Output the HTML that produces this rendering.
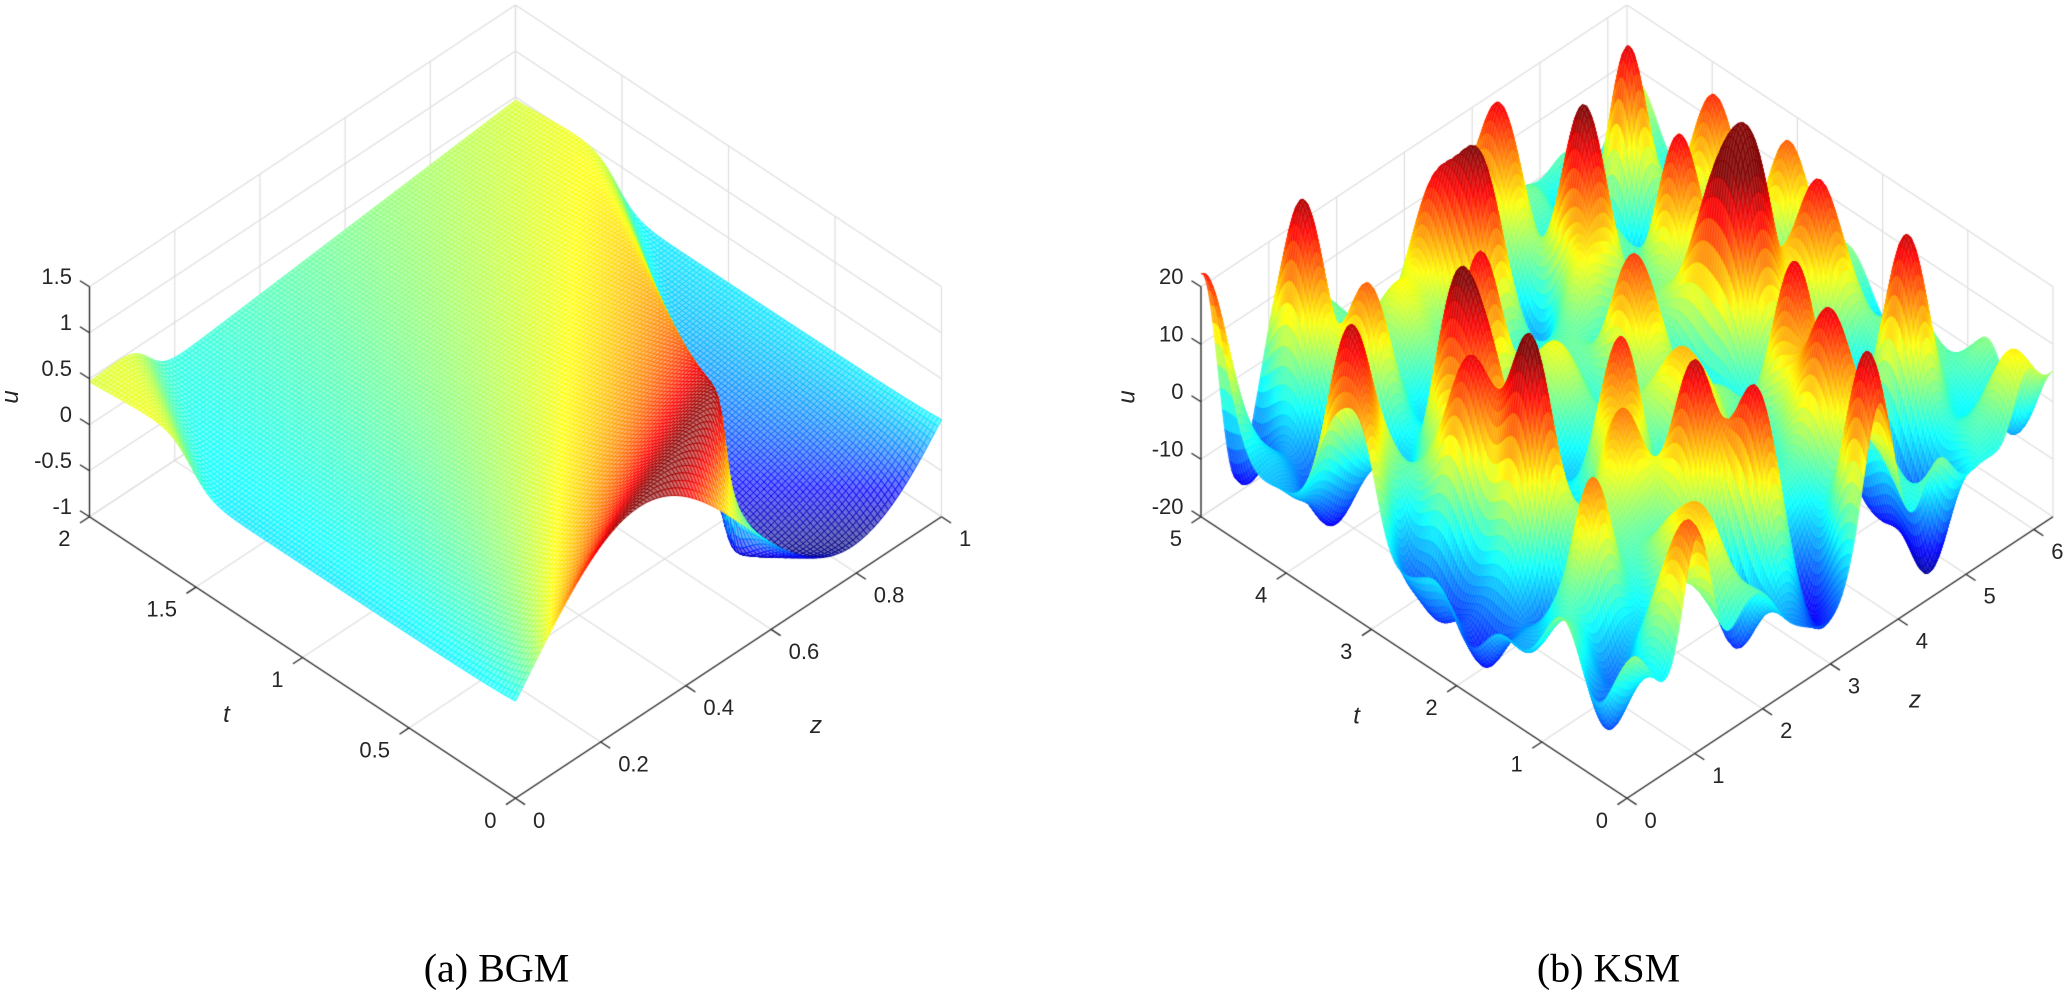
<!DOCTYPE html>
<html><head><meta charset="utf-8">
<style>
html,body{margin:0;padding:0;background:#fff;}
#wrap{position:relative;width:2067px;height:993px;overflow:hidden;background:#fff;}
#cv,#fg{position:absolute;left:0;top:0;}
</style></head>
<body>
<div id="wrap">
<canvas id="cv" width="2067" height="993"></canvas>
<svg id="fg" width="2067" height="993" xmlns="http://www.w3.org/2000/svg">
<g font-family="'Liberation Sans', Arial, Helvetica, sans-serif" font-size="22" fill="#262626">
  <g text-anchor="end">
    <text x="72" y="284.2">1.5</text>
    <text x="72" y="330.2">1</text>
    <text x="72" y="376.2">0.5</text>
    <text x="72" y="422.2">0</text>
    <text x="72" y="468.2">-0.5</text>
    <text x="72" y="514.2">-1</text>
    <text x="1183.5" y="284.2">20</text>
    <text x="1183.5" y="341.7">10</text>
    <text x="1183.5" y="399.2">0</text>
    <text x="1183.5" y="456.7">-10</text>
    <text x="1183.5" y="514.2">-20</text>
    <text x="496.5" y="827.8">0</text>
    <text x="390" y="757.4">0.5</text>
    <text x="283.5" y="687">1</text>
    <text x="177" y="616.6">1.5</text>
    <text x="70.5" y="546.2">2</text>
    <text x="1608" y="827.8">0</text>
    <text x="1522.8" y="771.5">1</text>
    <text x="1437.6" y="715.2">2</text>
    <text x="1352.4" y="658.8">3</text>
    <text x="1267.2" y="602.5">4</text>
    <text x="1182" y="546.2">5</text>
  </g>
  <g text-anchor="start">
    <text x="533" y="827.8">0</text>
    <text x="618.2" y="771.5">0.2</text>
    <text x="703.4" y="715.2">0.4</text>
    <text x="788.6" y="658.8">0.6</text>
    <text x="873.8" y="602.5">0.8</text>
    <text x="959" y="546.2">1</text>
    <text x="1644.5" y="827.8">0</text>
    <text x="1712.3" y="783">1</text>
    <text x="1780.1" y="738.2">2</text>
    <text x="1847.9" y="693.3">3</text>
    <text x="1915.7" y="648.5">4</text>
    <text x="1983.5" y="603.7">5</text>
    <text x="2051.3" y="558.9">6</text>
  </g>
  <g font-style="italic" font-size="24" text-anchor="middle">
    <text transform="translate(18,397) rotate(-90)">u</text>
    <text transform="translate(1134.5,397) rotate(-90)">u</text>
    <text x="226.5" y="722">t</text>
    <text x="1356.6" y="723.7">t</text>
    <text x="816" y="733">z</text>
    <text x="1915" y="707.4">z</text>
  </g>
</g>
<g font-family="'Liberation Serif', 'Times New Roman', Times, serif" font-size="40" fill="#000" text-anchor="middle">
  <text x="496.5" y="981.5">(a) BGM</text>
  <text x="1608.5" y="981.5">(b) KSM</text>
</g>
</svg>
</div>
<script>
(function(){
var cv=document.getElementById('cv');
var ctx=cv.getContext('2d');
function P(X0,zn,tn,un){return [X0+426*(zn-tn),798.3-281.6*(zn+tn)-230*un];}
function L(a,b){ctx.beginPath();ctx.moveTo(a[0],a[1]);ctx.lineTo(b[0],b[1]);ctx.stroke();}
function cl(x){return x<0?0:(x>1?1:x);}
function jet(v){v=cl(v);return [cl(1.5-Math.abs(4*v-3)),cl(1.5-Math.abs(4*v-2)),cl(1.5-Math.abs(4*v-1))];}

function grid(X0,zt,tt,ut){
  ctx.strokeStyle='#dedede';ctx.lineWidth=1.2;
  zt.forEach(function(z){L(P(X0,z,0,0),P(X0,z,1,0));L(P(X0,z,1,0),P(X0,z,1,1));});
  tt.forEach(function(t){L(P(X0,0,t,0),P(X0,1,t,0));L(P(X0,1,t,0),P(X0,1,t,1));});
  ut.forEach(function(u){L(P(X0,0,1,u),P(X0,1,1,u));L(P(X0,1,0,u),P(X0,1,1,u));});
}
function axes(X0,zt,tt,ut){
  ctx.strokeStyle='#262626';ctx.lineWidth=1.3;
  L(P(X0,0,1,0),P(X0,0,1,1));
  L(P(X0,0,0,0),P(X0,0,1,0));
  L(P(X0,0,0,0),P(X0,1,0,0));
  ut.forEach(function(u){var p=P(X0,0,1,u);L(p,[p[0]-9.5,p[1]-6]);});
  tt.forEach(function(t){var p=P(X0,0,t,0);L(p,[p[0]-9.5,p[1]+6.3]);});
  zt.forEach(function(z){var p=P(X0,z,0,0);L(p,[p[0]+9.5,p[1]+6.3]);});
}
function surf(X0,V,N,umin,ur,lw,mix,cmin,cmax){
  var k;
  if(cmin===undefined){cmin=1e9;cmax=-1e9;
    for(k=0;k<V.length;k++){if(V[k]<cmin)cmin=V[k];if(V[k]>cmax)cmax=V[k];}}
  var px=new Float64Array(N*N),py=new Float64Array(N*N);
  for(var j=0;j<N;j++)for(var i=0;i<N;i++){k=j*N+i;var p=P(X0,i/(N-1),j/(N-1),(V[k]-umin)/ur);px[k]=p[0];py[k]=p[1];}
  ctx.lineWidth=lw;ctx.lineJoin='round';
  var M=N-1;
  for(k=2*M-2;k>=0;k--){
    var i0=Math.max(0,k-(M-1)),i1=Math.min(M-1,k);
    for(var ii=i0;ii<=i1;ii++){
      var jj=k-ii;
      var a=jj*N+ii,b=a+1,c=a+N+1,d=a+N;
      var v=(V[a]+V[b]+V[c]+V[d])*0.25;
      var col=jet((v-cmin)/(cmax-cmin));
      var r=col[0]*255,g=col[1]*255,bl=col[2]*255;
      ctx.fillStyle='rgb('+Math.round(r+(255-r)*mix)+','+Math.round(g+(255-g)*mix)+','+Math.round(bl+(255-bl)*mix)+')';
      ctx.strokeStyle='rgb('+Math.round(r)+','+Math.round(g)+','+Math.round(bl)+')';
      ctx.beginPath();ctx.moveTo(px[a],py[a]);ctx.lineTo(px[b],py[b]);ctx.lineTo(px[c],py[c]);ctx.lineTo(px[d],py[d]);ctx.closePath();
      ctx.fill();ctx.stroke();
    }
  }
}

/* Burgers equation (periodic) */
function burgers(N){
  var G=480,dx=1/G,nu=0.0045,dt=1/6000;
  var u=new Float64Array(G),k1=new Float64Array(G),k2=new Float64Array(G),tmp=new Float64Array(G);
  for(var i=0;i<G;i++)u[i]=0.30+0.98*Math.sin(2*Math.PI*(i*dx-0.04));
  function rhs(v,r){
    for(var i=0;i<G;i++){
      var im=i===0?G-1:i-1,ip=i===G-1?0:i+1;
      r[i]=-(v[ip]*v[ip]-v[im]*v[im])/(4*dx)+nu*(v[ip]-2*v[i]+v[im])/(dx*dx);
    }
  }
  var V=new Float64Array(N*N);
  var stride=G/(N-1);
  function snap(j){for(var i=0;i<N;i++){V[j*N+i]=u[Math.round(i*stride)%G];}}
  snap(0);
  var steps=Math.round(2/(N-1)/dt);
  for(var j=1;j<N;j++){
    for(var s=0;s<steps;s++){
      rhs(u,k1);
      for(var q=0;q<G;q++)tmp[q]=u[q]+dt*k1[q];
      rhs(tmp,k2);
      for(q=0;q<G;q++)u[q]+=0.5*dt*(k1[q]+k2[q]);
    }
    snap(j);
  }
  return V;
}

/* KS-like field */
var KP=[
[0.867,0.864,31,0.028,0.035],
[0.635,0.94,24],[0.925,0.71,22],[0.955,0.575,24],[0.434,0.879,24],
[0.659,0.767,24],[0.78,0.66,24],[0.462,0.815,26],[0.716,0.522,24],
[0.776,0.47,22],[0.865,0.427,22],[0.195,0.96,24],[0.21,0.826,24],
[0.341,0.68,26],[0.696,0.311,26],[0.857,0.195,24],[0.935,0.03,22],
[0.035,0.70,24],[0.22,0.624,23],[0.229,0.554,22],[0.387,0.397,24],
[0.645,0.167,24],[0.022,0.612,22],[0.141,0.507,24],[0.17,0.39,26],
[0.382,0.221,26],[0.426,0.133,24],[0.597,0.03,22],[0.151,0.227,24],
[0.268,0.067,26],[0.0,1.0,16],[0.167,0.016,22],[0.72,0.45,18],
[0.55,0.55,18],[0.30,0.30,16],[0.52,0.40,16],[0.60,0.70,16],
[0.026,0.08,-13],[0.036,0.586,-15],[0.035,0.487,-15],[0.046,0.363,-15],
[0.279,0.058,-15],[0.36,0.084,-15],[0.44,0.01,-13,0.05,0.045],
[0.09,0.81,-15,0.06,0.06],[0.074,1.0,-13],[0.775,0.06,-15],[0.978,0.08,-15],
[0.773,0.164,-13],[0.80,0.85,-6],[0.56,0.82,-6],
[0.10,0.15,-10],[0.52,0.10,-9],[0.25,0.40,-8],[0.12,0.30,-8]
];
function ks(N){
  var V=new Float64Array(N*N);
  for(var j=0;j<N;j++){var tn=j/(N-1);
    for(var i=0;i<N;i++){var zn=i/(N-1);
      var u=-1+2.5*Math.sin(2*Math.PI*(3*zn+1.3*tn)+0.7)+2*Math.sin(2*Math.PI*(5*zn-2.1*tn)+2.1)+1.5*Math.sin(2*Math.PI*(zn+3.7*tn)+4)
        +2.5*Math.sin(2*Math.PI*(7*zn+2*tn)+1)+2.5*Math.sin(2*Math.PI*(-4*zn+6*tn)+2.5);
      for(var m=0;m<KP.length;m++){var p=KP[m];var sz=p[3]||0.032,st=p[4]||0.04;
        var dz=(zn-p[0])/sz,dd=(tn-p[1])/st;var e=0.5*(dz*dz+dd*dd);
        if(e<14)u+=p[2]*Math.exp(-e);}
      V[j*N+i]=u;
    }}
  return V;
}

var X1=515.5,X2=1627;
var zt1=[0,0.2,0.4,0.6,0.8,1],tt1=[0,0.25,0.5,0.75,1],ut1=[0,0.2,0.4,0.6,0.8,1];
var zt2=[],tt2=[0,0.2,0.4,0.6,0.8,1],ut2=[0,0.25,0.5,0.75,1];
for(var q=0;q<=6;q++)zt2.push(q/(2*Math.PI));

grid(X1,zt1,tt1,ut1);
grid(X2,zt2,tt2,ut2);
var N1=121;
surf(X1,burgers(N1),N1,-1,2.5,0.9,0.42);
var N2=181;
surf(X2,ks(N2),N2,-20,40,0.8,0.15,-23,30);
axes(X1,zt1,tt1,ut1);
axes(X2,zt2,tt2,ut2);
})();
</script>
</body></html>
